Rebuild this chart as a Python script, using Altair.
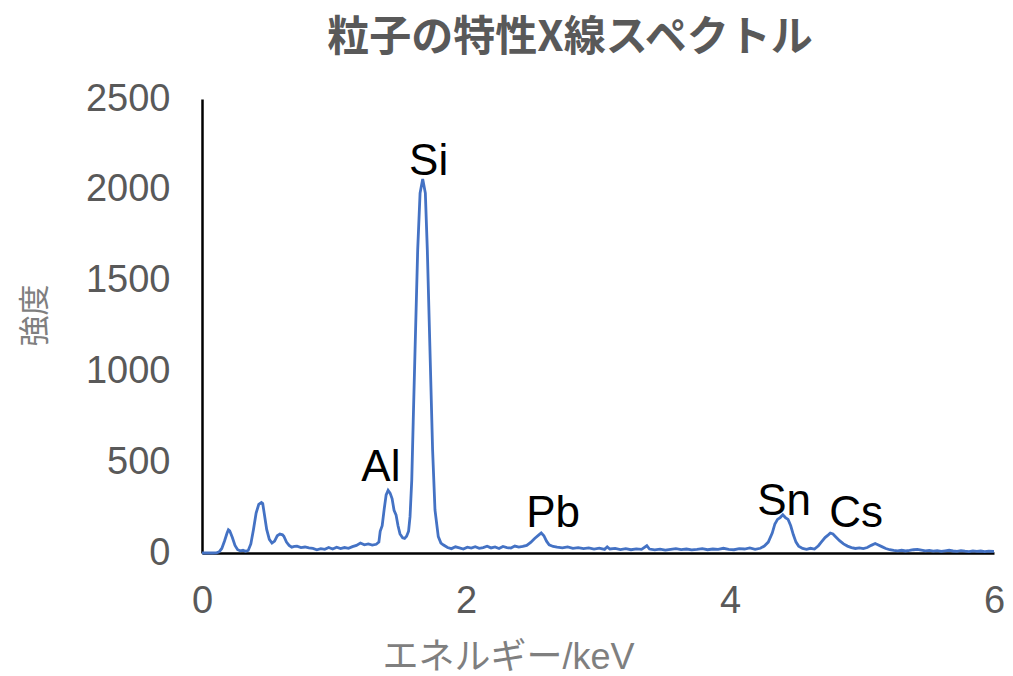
import altair as alt
import pandas as pd

energy = [
    0.00, 0.04, 0.08, 0.11, 0.13, 0.15, 0.17, 0.19, 0.20, 0.21, 0.23, 0.25, 0.27, 0.29,
    0.31, 0.33, 0.35, 0.37, 0.39, 0.41, 0.43, 0.45, 0.46, 0.47, 0.49, 0.51, 0.53, 0.55,
    0.57, 0.59, 0.61, 0.62, 0.64, 0.66, 0.68, 0.70, 0.72, 0.75, 0.78, 0.81, 0.84, 0.87,
    0.90, 0.93, 0.96, 0.99, 1.02, 1.05, 1.08, 1.11, 1.14, 1.17, 1.20, 1.23, 1.26, 1.29,
    1.32, 1.34, 1.35, 1.365, 1.38, 1.395, 1.41, 1.425, 1.44, 1.455, 1.47, 1.485, 1.50,
    1.52, 1.535, 1.55, 1.565, 1.576, 1.589, 1.60, 1.614, 1.634, 1.652, 1.672, 1.692,
    1.707, 1.727, 1.747, 1.765, 1.79, 1.81, 1.83, 1.86, 1.89, 1.92, 1.95, 1.98, 2.01,
    2.04, 2.07, 2.10, 2.13, 2.16, 2.19, 2.22, 2.25, 2.28, 2.31, 2.34, 2.37, 2.40, 2.43,
    2.46, 2.49, 2.52, 2.55, 2.57, 2.59, 2.61, 2.63, 2.66, 2.69, 2.73, 2.77, 2.81, 2.85,
    2.89, 2.93, 2.97, 3.01, 3.05, 3.07, 3.09, 3.13, 3.17, 3.21, 3.25, 3.29, 3.33, 3.37,
    3.39, 3.43, 3.47, 3.51, 3.55, 3.59, 3.63, 3.67, 3.71, 3.75, 3.79, 3.83, 3.87, 3.91,
    3.95, 3.99, 4.03, 4.07, 4.11, 4.15, 4.19, 4.23, 4.26, 4.29, 4.32, 4.34, 4.36, 4.38,
    4.40, 4.42, 4.44, 4.46, 4.48, 4.50, 4.52, 4.55, 4.58, 4.61, 4.64, 4.67, 4.69, 4.72,
    4.745, 4.76, 4.78, 4.80, 4.83, 4.86, 4.89, 4.92, 4.95, 4.98, 5.01, 5.04, 5.07, 5.10,
    5.12, 5.15, 5.18, 5.21, 5.24, 5.27, 5.30, 5.33, 5.36, 5.39, 5.42, 5.45, 5.48, 5.51,
    5.54, 5.57, 5.60, 5.63, 5.66, 5.69, 5.72, 5.75, 5.78, 5.81, 5.84, 5.87, 5.90, 5.93,
    5.96, 6.00,
]

intensity = [
    0, 0, 0, 1, 6, 25, 65, 110, 128, 122, 85, 42, 18, 12,
    15, 9, 14, 50, 130, 220, 268, 278, 272, 225, 130, 75, 55, 66,
    95, 104, 100, 92, 60, 42, 32, 36, 38, 30, 33, 28, 25, 18,
    24, 20, 30, 22, 32, 24, 30, 26, 35, 42, 55, 45, 50, 44,
    48, 60, 120, 150, 240, 320, 345, 330, 300, 235, 210, 150, 105,
    84, 80, 92, 120, 200, 400, 720, 1118, 1669, 1982, 2060, 1982,
    1669, 1118, 567, 237, 90, 55, 44, 30, 24, 34, 28, 22, 32,
    27, 35, 26, 30, 37, 28, 33, 25, 36, 30, 27, 38, 32, 36,
    42, 58, 80, 98, 110, 95, 65, 45, 36, 32, 28, 34, 26, 30,
    24, 28, 22, 27, 20, 34, 22, 25, 19, 24, 18, 23, 20, 40,
    22, 17, 21, 16, 20, 24, 19, 22, 17, 20, 24, 18, 22, 20,
    26, 20, 18, 24, 22, 28, 20, 26, 38, 60, 110, 160, 185, 195,
    210, 195, 185, 150, 100, 60, 38, 25, 20, 26, 22, 40, 58, 85,
    100, 110, 105, 90, 68, 50, 38, 30, 25, 28, 24, 30, 42, 52,
    45, 35, 25, 18, 14, 12, 15, 11, 14, 18, 20, 16, 12, 14,
    10, 13, 9, 12, 15, 11, 9, 13, 10, 8, 12, 9, 11, 8,
    10, 9,
]

labels = ["Al", "Si", "Pb", "Sn", "Cs"]
label_x = [1.355, 1.717, 2.66, 4.41, 4.955]
label_y = [397, 2082, 143, 209, 143]

x_ticks = [0, 2, 4, 6]
y_ticks = [0, 500, 1000, 1500, 2000, 2500]

LATIN = "'Liberation Sans', Arial, 'Noto Sans CJK JP', sans-serif"
CJK = "'Noto Sans CJK JP', sans-serif"

df = pd.DataFrame({"energy": energy, "intensity": intensity})
lab = pd.DataFrame({"label": labels, "x": label_x, "y": label_y})

x_enc = alt.X(
    "energy:Q",
    scale=alt.Scale(domain=[0, 6], nice=False, zero=False),
    axis=alt.Axis(
        values=x_ticks, format="d", title="エネルギー/keV", grid=False, ticks=False,
        tickSize=0, domainColor="black", domainWidth=2.5, labelFont=LATIN,
        labelFontSize=38, labelColor="#595959", labelPadding=29, titleFont=LATIN,
        titleFontSize=36, titleFontWeight="normal", titleColor="#7f7f7f", titleX=306,
        titleY=104, titleBaseline="middle", titleAlign="center", labelFlush=False,
    ),
)
y_enc = alt.Y(
    "intensity:Q",
    scale=alt.Scale(domain=[0, 2500], nice=False),
    axis=alt.Axis(
        values=y_ticks, format="d", title="強度", grid=False, ticks=False, tickSize=0,
        domainColor="black", domainWidth=2.5, labelFont=LATIN, labelFontSize=38,
        labelColor="#595959", labelPadding=32, titleFont=CJK, titleFontSize=31,
        titleFontWeight="normal", titleColor="#7f7f7f", titleX=-167, titleY=216,
        titleAngle=270, titleBaseline="middle", titleAlign="center",
    ),
)

line = alt.Chart(df).mark_line(color="#4472C4", strokeWidth=2.8).encode(x=x_enc, y=y_enc)

text = alt.Chart(lab).mark_text(
    fontSize=44, font=LATIN, color="black", baseline="alphabetic", align="center"
).encode(x="x:Q", y="y:Q", text="label:N")

chart = (
    (line + text)
    .properties(
        width=792,
        height=454,
        title=alt.TitleParams(
            "粒子の特性X線スペクトル", font=CJK, fontSize=42, fontWeight="bold",
            color="#595959", anchor="middle", dx=-28, offset=20,
        ),
        padding={"left": 194, "top": 91, "right": 10, "bottom": 122},
        autosize=alt.AutoSizeParams(type="none"),
    )
    .configure_view(stroke=None)
)

chart.save("out.html", embed_options={"renderer": "svg", "actions": False})
